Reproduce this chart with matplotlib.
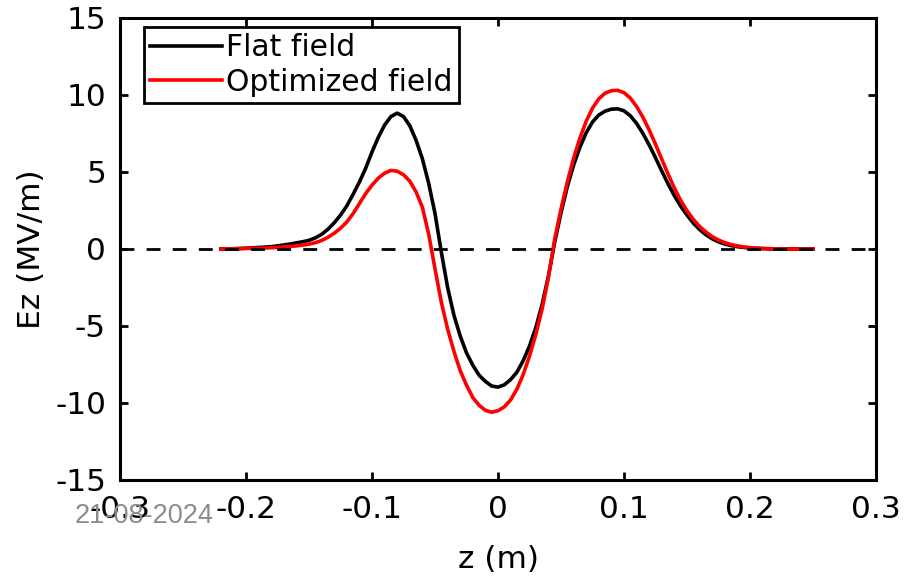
import matplotlib
matplotlib.use("Agg")
import matplotlib.pyplot as plt

Z = [-0.220, -0.215, -0.210, -0.205, -0.200, -0.195, -0.190, -0.185, -0.180, -0.175,
     -0.170, -0.165, -0.160, -0.155, -0.150, -0.145, -0.140, -0.135, -0.130, -0.125,
     -0.120, -0.115, -0.110, -0.105, -0.100, -0.095, -0.090, -0.085, -0.080, -0.075,
     -0.070, -0.065, -0.060, -0.055, -0.050, -0.045, -0.040, -0.035, -0.030, -0.025,
     -0.020, -0.015, -0.010, -0.005, 0.000, 0.005, 0.010, 0.015, 0.020, 0.025,
     0.030, 0.035, 0.040, 0.045, 0.050, 0.055, 0.060, 0.065, 0.070, 0.075,
     0.080, 0.085, 0.090, 0.095, 0.100, 0.105, 0.110, 0.115, 0.120, 0.125,
     0.130, 0.135, 0.140, 0.145, 0.150, 0.155, 0.160, 0.165, 0.170, 0.175,
     0.180, 0.185, 0.190, 0.195, 0.200, 0.205, 0.210, 0.215, 0.220, 0.225,
     0.230, 0.235, 0.240, 0.245, 0.250]

EZ_FLAT = [0.00, 0.01, 0.02, 0.03, 0.05, 0.07, 0.10, 0.12, 0.15, 0.20,
           0.26, 0.32, 0.40, 0.47, 0.56, 0.72, 0.95, 1.28, 1.70, 2.20,
           2.80, 3.55, 4.35, 5.25, 6.30, 7.25, 8.05, 8.60, 8.82, 8.60,
           8.00, 7.05, 5.85, 4.25, 2.30, -0.20, -2.50, -4.30, -5.65, -6.75,
           -7.55, -8.20, -8.60, -8.90, -8.97, -8.82, -8.48, -8.00, -7.25, -6.30,
           -5.10, -3.60, -1.75, 0.45, 2.35, 4.05, 5.45, 6.60, 7.55, 8.25,
           8.70, 8.95, 9.08, 9.10, 8.97, 8.65, 8.15, 7.50, 6.75, 5.92,
           5.05, 4.22, 3.45, 2.78, 2.20, 1.68, 1.26, 0.92, 0.66, 0.46,
           0.32, 0.22, 0.15, 0.10, 0.06, 0.04, 0.02, 0.01, 0.01, 0.00,
           0.00, 0.00, 0.00, 0.00, 0.00]

EZ_OPT = [0.00, 0.01, 0.01, 0.02, 0.03, 0.04, 0.05, 0.06, 0.08, 0.10,
          0.13, 0.16, 0.20, 0.25, 0.31, 0.41, 0.55, 0.76, 1.02, 1.35,
          1.75, 2.30, 2.95, 3.60, 4.15, 4.60, 4.92, 5.10, 5.05, 4.82,
          4.40, 3.70, 2.70, 0.95, -1.30, -3.45, -5.20, -6.65, -7.90, -8.85,
          -9.65, -10.15, -10.48, -10.60, -10.50, -10.25, -9.80, -9.10, -8.15, -6.95,
          -5.55, -3.90, -1.85, 0.65, 2.60, 4.35, 5.90, 7.20, 8.30, 9.15,
          9.75, 10.12, 10.28, 10.30, 10.15, 9.80, 9.25, 8.55, 7.72, 6.80,
          5.82, 4.85, 3.95, 3.15, 2.48, 1.92, 1.46, 1.10, 0.80, 0.58,
          0.41, 0.29, 0.20, 0.13, 0.09, 0.06, 0.04, 0.02, 0.01, 0.00,
          0.00, 0.00, 0.00, 0.00, 0.00]

XTICKS = [-0.3, -0.2, -0.1, 0.0, 0.1, 0.2, 0.3]
XTICK_LABELS = ["-0.3", "-0.2", "-0.1", "0", "0.1", "0.2", "0.3"]
YTICKS = [-15, -10, -5, 0, 5, 10, 15]
YTICK_LABELS = ["-15", "-10", "-5", "0", "5", "10", "15"]

plt.rcParams["font.family"] = ["DejaVu Sans"]
plt.rcParams["axes.unicode_minus"] = False

fig = plt.figure(figsize=(9.05, 5.76), dpi=100)
ax = fig.add_axes([0.1326, 0.1667, 0.8354, 0.8021])

ax.plot(Z, EZ_FLAT, color="black", lw=2.6, label="Flat field", zorder=2)
ax.plot(Z, EZ_OPT, color="#ff0000", lw=2.6, label="Optimized field", zorder=3)
ax.axhline(0, color="black", lw=2.0, dashes=(5.0, 4.4), zorder=4)

ax.set_xlim(-0.3, 0.3)
ax.set_ylim(-15, 15)
ax.set_xticks(XTICKS)
ax.set_xticklabels(XTICK_LABELS)
ax.set_yticks(YTICKS)
ax.set_yticklabels(YTICK_LABELS)
ax.tick_params(direction="in", top=True, right=True, length=6, width=2,
               labelsize=22.5)
ax.tick_params(axis="x", pad=11)
ax.tick_params(axis="y", pad=10)
for s in ax.spines.values():
    s.set_linewidth(2.2)

ax.set_xlabel("z (m)", fontsize=22.5)
ax.set_ylabel("Ez (MV/m)", fontsize=22.5)
ax.xaxis.set_label_coords(0.5, -0.14)
ax.yaxis.set_label_coords(-0.098, 0.5)

leg = ax.legend(loc="upper left", bbox_to_anchor=(0.0317, 0.9805),
                borderaxespad=0, fontsize=21.5, handlelength=2.4,
                handletextpad=0.15, labelspacing=0.2, borderpad=0.2,
                fancybox=False, framealpha=1, edgecolor="black")
leg.get_frame().set_linewidth(2.0)

# date stamp that sits over the first tick label in the source
fig.text(0.0823, 0.1042, "21-08-2024", color="#8c8c8c", fontsize=19.5,
         family=["Liberation Sans", "DejaVu Sans"], ha="left", va="center")

fig.savefig("out.png", dpi=100)
